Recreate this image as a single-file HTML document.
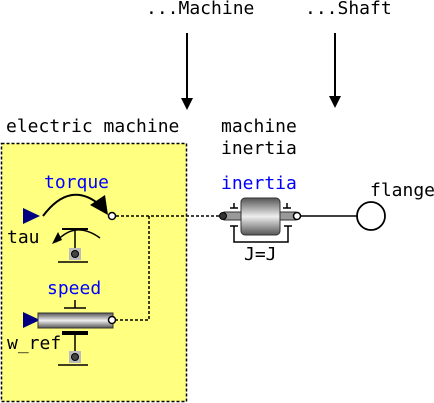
<!DOCTYPE html>
<html><head><meta charset="utf-8"><style>
html,body{margin:0;padding:0;background:#fff;width:434px;height:403px;overflow:hidden}
text{font-family:"DejaVu Sans Mono","Liberation Mono",monospace;font-size:18px}
</style></head><body>
<svg width="434" height="403" viewBox="0 0 434 403" xmlns="http://www.w3.org/2000/svg">
<defs>
<linearGradient id="g" x1="0" y1="0" x2="0" y2="1">
<stop offset="0" stop-color="#555"/><stop offset="0.5" stop-color="#eee"/><stop offset="1" stop-color="#555"/></linearGradient>
</defs>
<text x="146" y="14">...Machine</text>
<text x="305" y="14">...Shaft</text>
<line x1="187" y1="33" x2="187" y2="100" stroke="#000" stroke-width="2"/>
<polygon points="181,98 193,98 187,110" fill="#000"/>
<line x1="335" y1="33" x2="335" y2="98" stroke="#000" stroke-width="2"/>
<polygon points="329,96 341,96 335,108" fill="#000"/>
<text x="6" y="132">electric machine</text>
<text x="221" y="132">machine</text>
<text x="221" y="154">inertia</text>
<rect x="1.5" y="143.5" width="185" height="258" fill="#ffff80" stroke="#000" stroke-dasharray="3,2" stroke-width="1.5"/>
<text x="44" y="188" fill="#00f">torque</text>
<text x="47" y="294" fill="#00f">speed</text>
<text x="221" y="189" fill="#00f">inertia</text>
<text x="370" y="196">flange</text>
<text x="7" y="243">tau</text>
<text x="7" y="349">w_ref</text>
<text x="244" y="260">J=J</text>
<!-- torque -->
<polygon points="23,208 40,216 23,224" fill="#000080"/>
<path d="M43,216 Q70,180 100,205" fill="none" stroke="#000" stroke-width="2"/>
<polygon points="90,205 105,195 108,215" fill="#000"/>
<path d="M56,242 Q75,220 100,238" fill="none" stroke="#000" stroke-width="1.5"/>
<polygon points="52,244 58,232 62,240" fill="#000"/>
<line x1="62" y1="229" x2="88" y2="229" stroke="#000" stroke-width="2"/>
<line x1="75" y1="229" x2="75" y2="250" stroke="#000" stroke-width="1.5"/>
<rect x="69" y="248" width="12" height="12" fill="#bbb"/><circle cx="75" cy="254" r="3.5" fill="#444" stroke="#000"/>
<line x1="58" y1="262" x2="88" y2="262" stroke="#000" stroke-width="1.5"/>
<circle cx="112" cy="216" r="3.5" fill="#fff" stroke="#000" stroke-width="1.5"/>
<!-- speed -->
<polygon points="23,312 40,320 23,328" fill="#000080"/>
<rect x="38" y="313" width="75" height="15" fill="url(#g)" stroke="#333"/>
<line x1="75" y1="300" x2="75" y2="308" stroke="#000" stroke-width="1.5"/>
<line x1="64" y1="308" x2="86" y2="308" stroke="#000" stroke-width="1.5"/>
<rect x="62" y="331" width="26" height="4" fill="#000"/>
<line x1="75" y1="335" x2="75" y2="352" stroke="#000" stroke-width="1.5"/>
<rect x="69" y="351" width="12" height="12" fill="#bbb"/><circle cx="75" cy="357" r="3.5" fill="#444" stroke="#000"/>
<line x1="58" y1="365" x2="88" y2="365" stroke="#000" stroke-width="1.5"/>
<circle cx="112" cy="320" r="3.5" fill="#fff" stroke="#000" stroke-width="1.5"/>
<!-- dashed connections -->
<path d="M116,216 H222 M149,216 V320 H116" fill="none" stroke="#000" stroke-width="1.5" stroke-dasharray="3,2"/>
<!-- inertia -->
<rect x="224" y="212" width="72" height="8" fill="#999" stroke="#333"/>
<rect x="241" y="198" width="39" height="37" rx="4" fill="url(#g)" stroke="#333"/>
<path d="M234,203 V208 M230,208 H238 M287,203 V208 M283,208 H291" stroke="#000" stroke-width="1.5"/>
<path d="M230,226 H238 M234,226 V242 H288 V226 M284,226 H292" fill="none" stroke="#000" stroke-width="1.5"/>
<circle cx="223" cy="216" r="3.5" fill="#333" stroke="#000"/>
<circle cx="297" cy="216" r="3.5" fill="#fff" stroke="#000" stroke-width="1.5"/>
<line x1="301" y1="216" x2="357" y2="216" stroke="#000" stroke-width="1.5"/>
<circle cx="371" cy="216" r="14" fill="#fff" stroke="#000" stroke-width="1.8"/>
</svg>
</body></html>
